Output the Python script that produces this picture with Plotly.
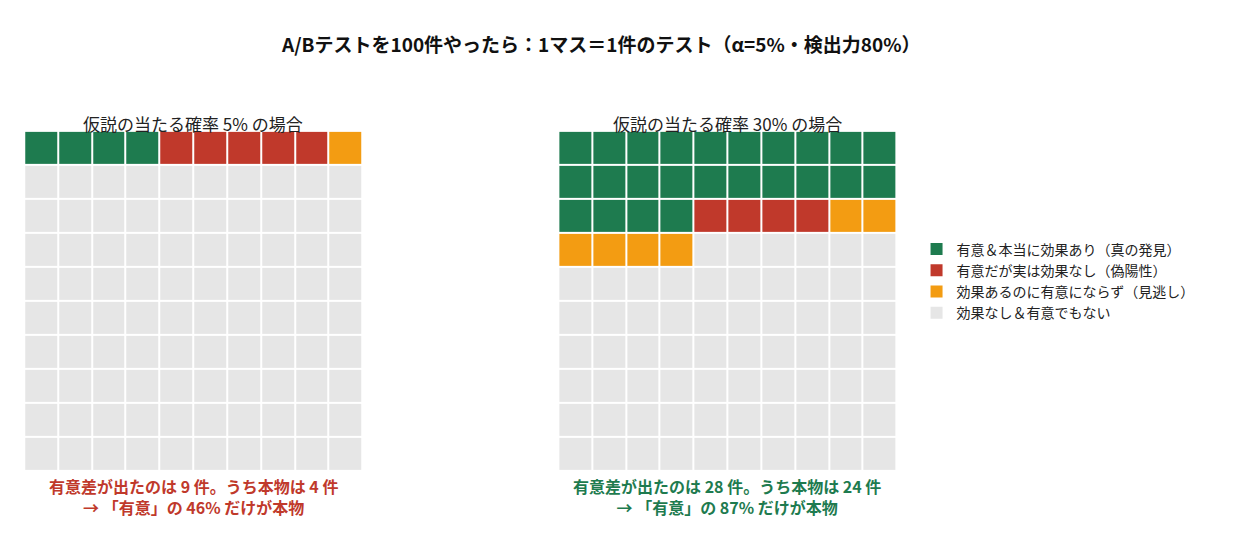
import plotly.graph_objects as go

categories = ["有意＆本当に効果あり（真の発見）", "有意だが実は効果なし（偽陽性）", "効果あるのに有意にならず（見逃し）", "効果なし＆有意でもない"]
colors = ["#1e7b4f", "#c0392b", "#f39c12", "#e6e6e6"]
left_counts = [4, 5, 1, 90]
right_counts = [24, 4, 6, 66]
panel_titles = ["仮説の当たる確率 5% の場合", "仮説の当たる確率 30% の場合"]
panel_notes = ["有意差が出たのは 9 件。うち本物は 4 件<br>→ 「有意」の 46% だけが本物",
               "有意差が出たのは 28 件。うち本物は 24 件<br>→ 「有意」の 87% だけが本物"]
note_colors = ["#c0392b", "#1e7b4f"]
FONT = "Noto Sans CJK JP"

def grid(counts):
    cells = []
    for i, c in enumerate(counts):
        cells += [i] * c
    return [cells[r*10:(r+1)*10] for r in range(10)]

cs = []
for i, c in enumerate(colors):
    cs += [[i/4, c], [(i+1)/4, c]]

fig = go.Figure()
domains = [[0.013, 0.284], [0.441, 0.712]]
for k, counts in enumerate([left_counts, right_counts]):
    fig.add_trace(go.Heatmap(z=grid(counts), zmin=-0.5, zmax=3.5, colorscale=cs, showscale=False,
                             xgap=2, ygap=2, hoverinfo="skip",
                             xaxis="x" if k == 0 else "x2", yaxis="y" if k == 0 else "y2"))
for c, col in zip(categories, colors):
    fig.add_trace(go.Scatter(x=[None], y=[None], mode="markers", name=c,
                             marker=dict(symbol="square", size=14, color=col)))

ax = dict(visible=False, showgrid=False, zeroline=False)
fig.update_layout(
    width=1248, height=546, margin=dict(l=0, r=0, t=0, b=0, autoexpand=False),
    plot_bgcolor="white", paper_bgcolor="white",
    font=dict(family=FONT, size=14, color="#222"),
    xaxis=dict(ax, domain=domains[0], range=[-0.5, 9.5]),
    yaxis=dict(ax, domain=[0.152, 0.775], range=[9.5, -0.5]),
    xaxis2=dict(ax, domain=domains[1], range=[-0.5, 9.5]),
    yaxis2=dict(ax, domain=[0.152, 0.775], range=[9.5, -0.5]),
    legend=dict(x=0.728, y=0.5, xanchor="left", yanchor="middle", font=dict(size=14), itemsizing="constant"),
    showlegend=True,
)
fig.add_annotation(x=0.475, y=0.963, xref="paper", yref="paper", showarrow=False, xanchor="center",
                   text="<b>A/Bテストを100件やったら：1マス＝1件のテスト（α=5%・検出力80%）</b>",
                   font=dict(size=19, color="#111"))
for k in range(2):
    cx = sum(domains[k]) / 2
    fig.add_annotation(x=cx, y=0.815, xref="paper", yref="paper", showarrow=False, xanchor="center",
                       text=panel_titles[k], font=dict(size=17, color="#222"))
    fig.add_annotation(x=cx, y=0.06, xref="paper", yref="paper", showarrow=False, xanchor="center",
                       text="<b>" + panel_notes[k] + "</b>", font=dict(size=16, color=note_colors[k]))
fig.write_html("out.html")
